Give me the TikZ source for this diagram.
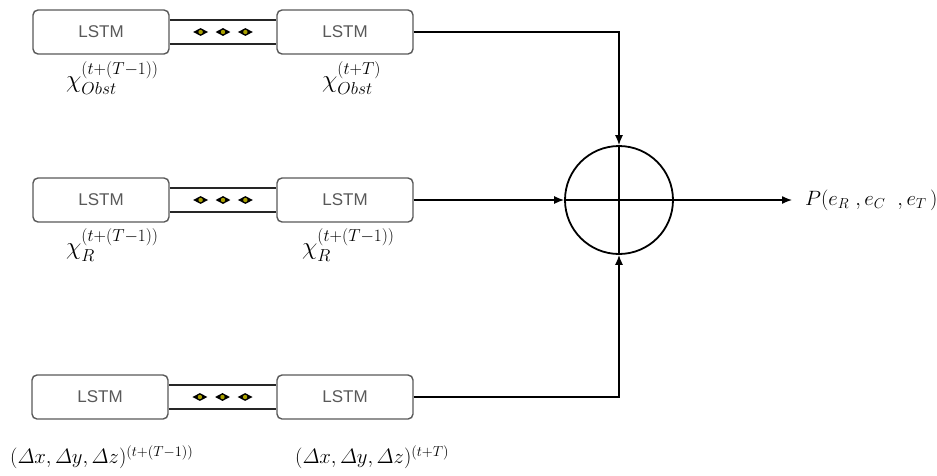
\documentclass[tikz,border=0pt]{standalone}
\usepackage{amsmath}
\usepackage{fontspec}
\newfontfamily\lstmfont{Liberation Sans}
\usetikzlibrary{arrows.meta,shapes.geometric}

\tikzset{
  lstm/.style={draw=black!65, line width=1.4pt, rounded corners=5pt, fill=white,
    minimum width=136pt, minimum height=44pt, text=black!65,
    font=\lstmfont\fontsize{17}{19}\selectfont},
  strip/.style={line width=1.8pt, black!85},
  seqdot/.style={diamond, fill=black, minimum width=15pt, minimum height=8pt, inner sep=0pt,
    path picture={\fill[olive!75!yellow] (path picture bounding box.center) circle (2.2pt);}},
  lab/.style={anchor=north west, inner sep=0pt, font=\fontsize{23}{26}\selectfont},
  arr/.style={-{Latex[length=10pt,width=8pt]}, line width=1.3pt},
}

\begin{document}
\begin{tikzpicture}[x=1pt,y=-1pt]

\useasboundingbox (0,0) rectangle (937,475);

%\draw[help lines, step=50] (0,0) grid (937,475);

% top row: obstacles
\node[lstm] (obsA) at (101,32) {LSTM};
\node[lstm] (obsB) at (345,32) {LSTM};
\draw[strip] ([yshift=12pt]obsA.east) -- ([yshift=12pt]obsB.west);
\draw[strip] ([yshift=-12pt]obsA.east) -- ([yshift=-12pt]obsB.west);
\path (obsA.east) -- (obsB.west)
  node[seqdot, pos=0.29] (obsD1) {} node[seqdot, pos=0.5] (obsD2) {} node[seqdot, pos=0.71] (obsD3) {};
\node[lab] (obsLa) at (66,61) {$\chi^{(t+(T-1))}_{Obst}$};
\node[lab] (obsLb) at (322,61) {$\chi^{(t+T)}_{Obst}$};

% middle row: robot
\node[lstm] (robA) at (101,200) {LSTM};
\node[lstm] (robB) at (345,200) {LSTM};
\draw[strip] ([yshift=12pt]robA.east) -- ([yshift=12pt]robB.west);
\draw[strip] ([yshift=-12pt]robA.east) -- ([yshift=-12pt]robB.west);
\path (robA.east) -- (robB.west)
  node[seqdot, pos=0.29] (robD1) {} node[seqdot, pos=0.5] (robD2) {} node[seqdot, pos=0.71] (robD3) {};
\node[lab] (robLa) at (66,228) {$\chi_R^{(t+(T-1))}$};
\node[lab] (robLb) at (302,228) {$\chi_R^{(t+(T-1))}$};

% bottom row: displacement
\node[lstm] (delA) at (100,397) {LSTM};
\node[lstm] (delB) at (345,397) {LSTM};
\draw[strip] ([yshift=12pt]delA.east) -- ([yshift=12pt]delB.west);
\draw[strip] ([yshift=-12pt]delA.east) -- ([yshift=-12pt]delB.west);
\path (delA.east) -- (delB.west)
  node[seqdot, pos=0.29] (delD1) {} node[seqdot, pos=0.5] (delD2) {} node[seqdot, pos=0.71] (delD3) {};
\node[lab, font=\fontsize{20}{24}\selectfont] (delLa) at (10,445) {$(\varDelta x,\varDelta y,\varDelta z)^{(t+(T-1))}$};
\node[lab, font=\fontsize{20}{24}\selectfont] (delLb) at (295,445) {$(\varDelta x,\varDelta y,\varDelta z)^{(t+T)}$};

% merge
\node[circle, draw, line width=1.8pt, minimum size=108pt, inner sep=0pt] (sum) at (619,200) {};
\draw[line width=1.8pt] (sum.north) -- (sum.south);
\draw[line width=1.8pt] (sum.west) -- (sum.east);

\draw[arr] (obsB.east) -| (sum.north);
\draw[arr] (robB.east) -- (sum.west);
\draw[arr] (delB.east) -| (sum.south);

\coordinate (outEnd) at (792,200);
\draw[arr] (sum.east) -- (outEnd);
\node[anchor=west, inner sep=0pt, font=\fontsize{20}{24}\selectfont] (out) at (805,200) {$P(e_R\ ,e_C\ \ ,e_T\,)$};

\end{tikzpicture}
\end{document}
